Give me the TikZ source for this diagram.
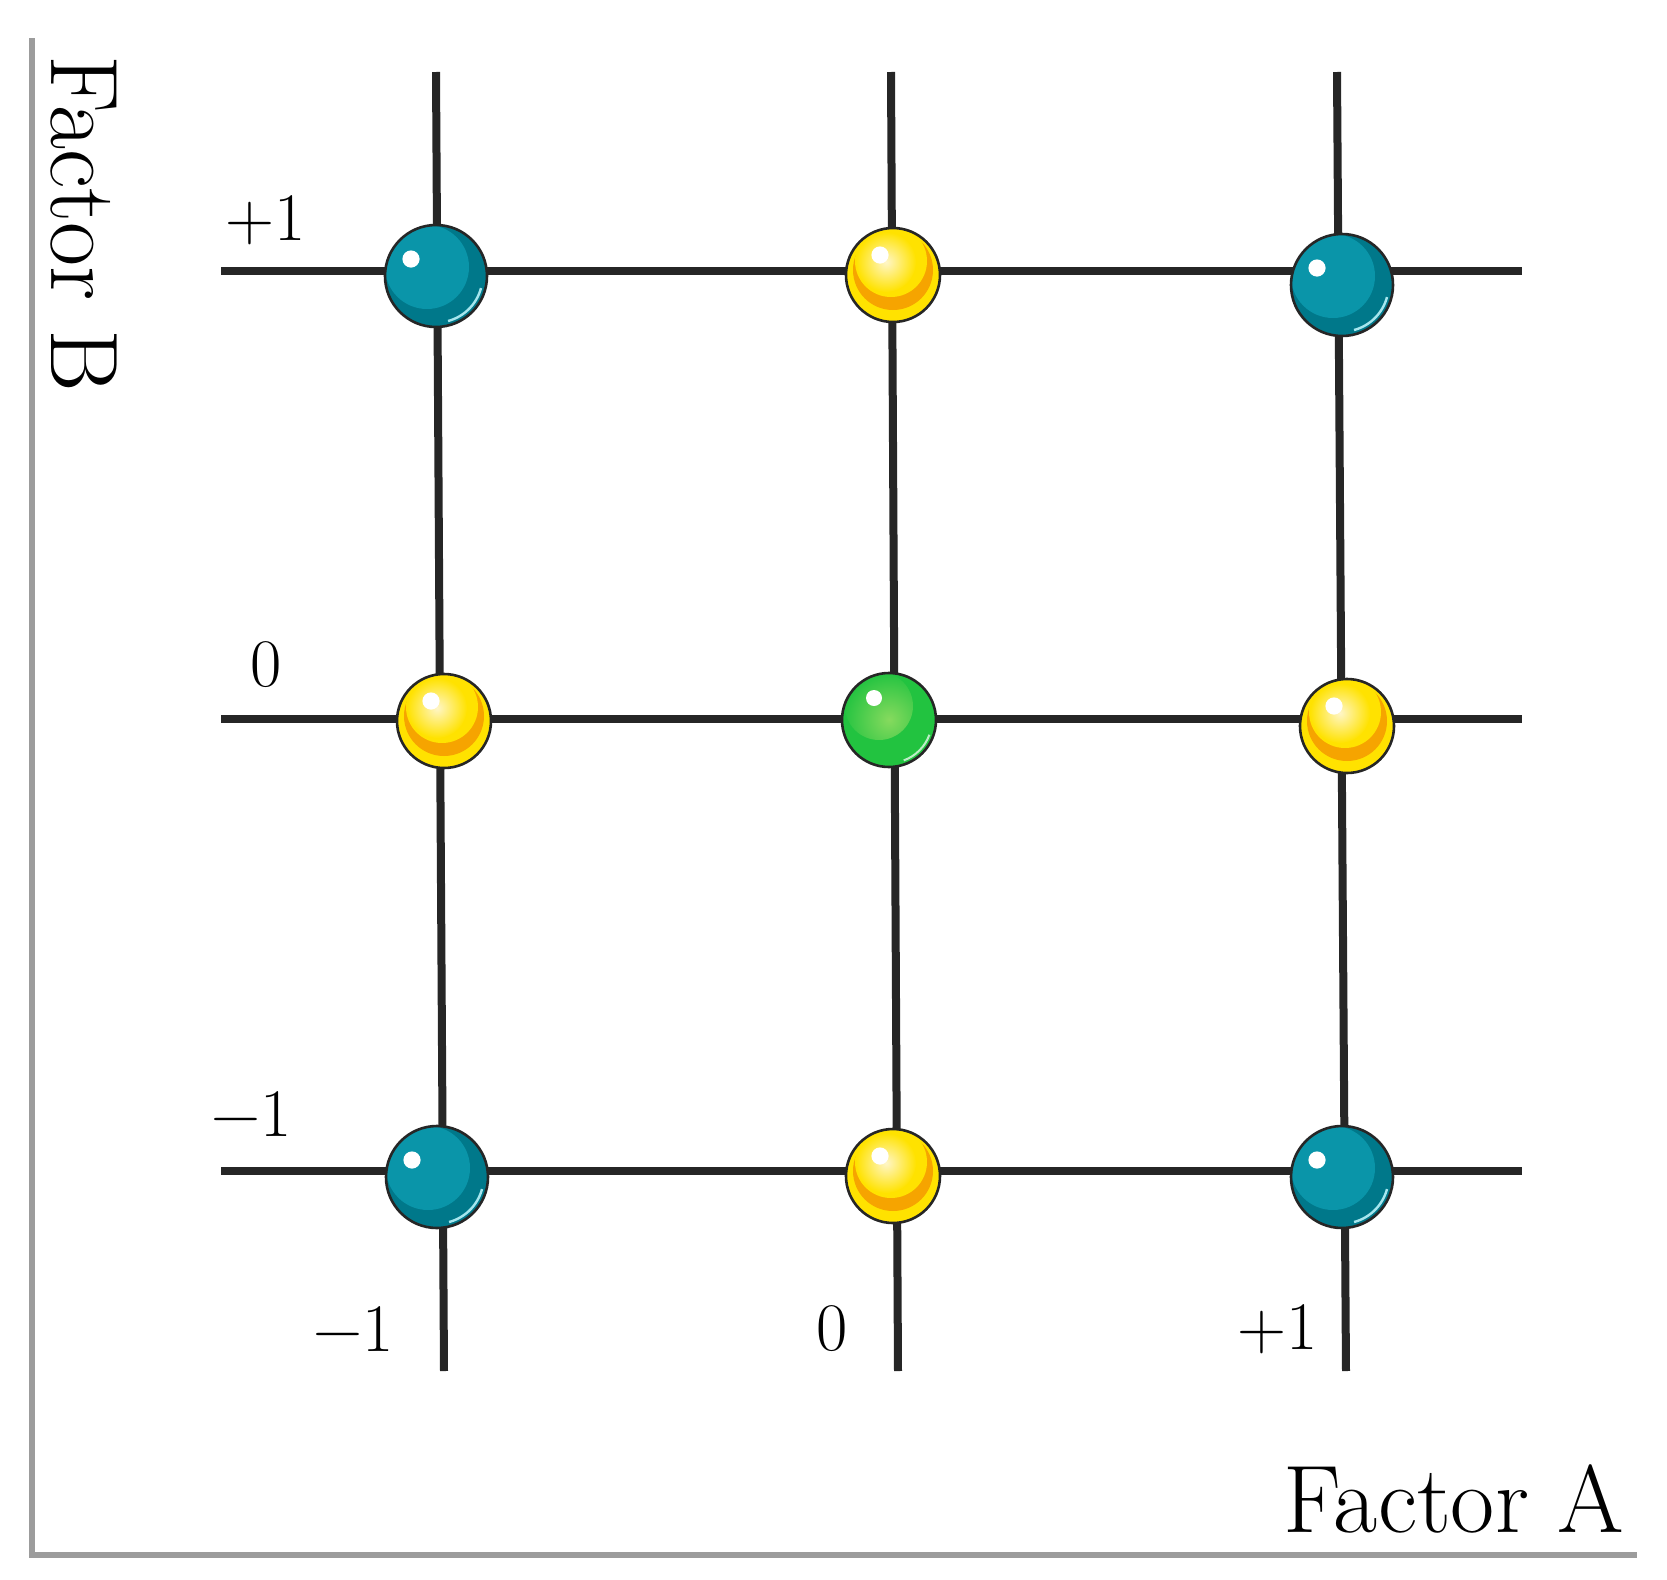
\documentclass[tikz,border=0pt]{standalone}
\usepackage{fontspec}
\usetikzlibrary{positioning}

\definecolor{gridline}{HTML}{262626}
\definecolor{axisgray}{HTML}{9C9C9C}
\definecolor{tealdark}{HTML}{00788A}
\definecolor{teallight}{HTML}{0A95A9}
\definecolor{tealrim}{HTML}{A6E6EE}
\definecolor{ballyellow}{HTML}{FFE200}
\definecolor{ballorange}{HTML}{F6A400}
\definecolor{ballcream}{HTML}{FFF6C8}
\definecolor{greendark}{HTML}{22C340}
\definecolor{greenlight}{HTML}{86DA5E}

\tikzset{
  gridln/.style={draw=gridline, line width=4pt},
  axisln/.style={draw=axisgray, line width=3.2pt},
  ticklabel/.style={font=\fontsize{34}{34}\selectfont, inner sep=0pt},
  factorlabel/.style={font=\fontsize{48}{48}\selectfont, inner sep=0pt},
  tealball/.style={circle, draw=black!85, line width=1.3pt, fill=tealdark,
    minimum size=51pt, inner sep=0pt,
    path picture={
      \fill[teallight] ([shift={(-9,-9)}]path picture bounding box.center) circle (21pt);
      \fill[white] ([shift={(-25,-17)}]path picture bounding box.center) circle (4.3pt);
      \draw[tealrim, line width=1.2pt] (path picture bounding box.center) ++(-15:23.3pt)
        arc[start angle=-15, end angle=-75, radius=23.3pt];
    }},
  yellowball/.style={circle, draw=black!85, line width=1.3pt, fill=ballyellow,
    minimum size=47pt, inner sep=0pt,
    path picture={
      \fill[ballorange] ([shift={(0,-5)}]path picture bounding box.center) circle (20pt);
      \fill[ballyellow] ([shift={(-2,-14)}]path picture bounding box.center) circle (18pt);
      \shade[inner color=ballcream, outer color=ballyellow]
        ([shift={(-7,-13)}]path picture bounding box.center) circle (15pt);
      \fill[white] ([shift={(-13,-20)}]path picture bounding box.center) circle (4.3pt);
    }},
  greenball/.style={circle, draw=black!85, line width=1.3pt, fill=greendark,
    minimum size=47pt, inner sep=0pt,
    path picture={
      \shade[inner color=greenlight, outer color=greendark]
        ([shift={(-10,-14)}]path picture bounding box.center) circle (17pt);
      \fill[white] ([shift={(-15,-22)}]path picture bounding box.center) circle (4pt);
      \draw[white!70!greendark, line width=1pt] (path picture bounding box.center) ++(-20:21.5pt)
        arc[start angle=-20, end angle=-70, radius=21.5pt];
    }}
}

\begin{document}
\begin{tikzpicture}[x=0.5pt, y=-0.5pt]
  \useasboundingbox (0,0) rectangle (1667,1580);

  % axes
  \coordinate (axtop) at (32,38);
  \coordinate (axorg) at (32,1555);
  \coordinate (axend) at (1637,1555);
  \draw[axisln] (axtop) -- (axorg) -- (axend);

  % grid ends
  \coordinate (vlt) at (436,72);   \coordinate (vlb) at (444,1371);
  \coordinate (vmt) at (891,72);   \coordinate (vmb) at (898,1371);
  \coordinate (vrt) at (1337,72);  \coordinate (vrb) at (1346,1371);
  \coordinate (htl) at (221,271);  \coordinate (htr) at (1522,271);
  \coordinate (hml) at (221,719);  \coordinate (hmr) at (1522,719);
  \coordinate (hbl) at (221,1171); \coordinate (hbr) at (1522,1171);

  % grid lines
  \draw[gridln] (vlt) -- (vlb);
  \draw[gridln] (vmt) -- (vmb);
  \draw[gridln] (vrt) -- (vrb);
  \draw[gridln] (htl) -- (htr);
  \draw[gridln] (hml) -- (hmr);
  \draw[gridln] (hbl) -- (hbr);

  % design points
  \node[tealball]   (ptl) at (436,276)  {};
  \node[yellowball] (ptm) at (893,275)  {};
  \node[tealball]   (ptr) at (1342,285) {};
  \node[yellowball] (pml) at (444,721)  {};
  \node[greenball]  (pmm) at (889,720)  {};
  \node[yellowball] (pmr) at (1347,726) {};
  \node[tealball]   (pbl) at (437,1177) {};
  \node[yellowball] (pbm) at (893,1176) {};
  \node[tealball]   (pbr) at (1342,1177) {};

  % levels of factor B
  \node[ticklabel] (lbp) at (266,220)  {+1};
  \node[ticklabel] (lbz) at (266,665)  {0};
  \node[ticklabel] (lbm) at (252,1114) {−1};

  % levels of factor A
  \node[ticklabel] (lam) at (354,1329)  {−1};
  \node[ticklabel] (laz) at (832,1329)  {0};
  \node[ticklabel] (lap) at (1278,1329) {+1};

  % axis names
  \node[factorlabel, rotate=-90] (facb) at (84,224) {Factor B};
  \node[factorlabel] (faca) at (1454,1499) {Factor A};
\end{tikzpicture}
\end{document}
